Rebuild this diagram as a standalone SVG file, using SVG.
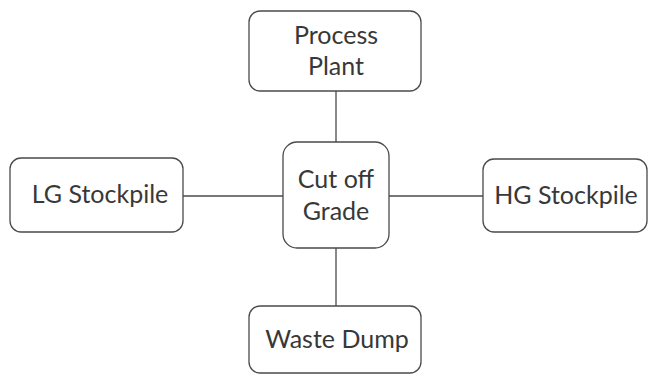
<svg xmlns="http://www.w3.org/2000/svg" width="650" height="376" viewBox="0 0 650 376">
<style>
.box{fill:#fff;stroke:#4a4a4a;stroke-width:1.3}
.lbl{font-family:Lato,"Open Sans","Liberation Sans",sans-serif;font-size:25px;fill:#383838;text-anchor:middle}
.conn line{stroke:#4a4a4a;stroke-width:1.3}
</style>
<rect width="650" height="376" fill="#fff"/>
<g id="connectors" class="conn">
<line x1="336" y1="91" x2="336" y2="142"/>
<line x1="183" y1="196" x2="283" y2="196"/>
<line x1="389" y1="196" x2="483" y2="196"/>
<line x1="336" y1="248" x2="336" y2="306"/>
</g>
<g id="process-plant">
<rect class="box" x="249" y="11" width="172" height="80" rx="11"/>
<text class="lbl" x="336" y="44">Process</text>
<text class="lbl" x="336" y="75">Plant</text>
</g>
<g id="lg-stockpile">
<rect class="box" x="10" y="158" width="173" height="74" rx="11"/>
<text class="lbl" x="100" y="203">LG Stockpile</text>
</g>
<g id="cut-off-grade">
<rect class="box" x="283" y="142" width="106" height="106" rx="14"/>
<text class="lbl" x="336" y="188">Cut off</text>
<text class="lbl" x="336" y="220">Grade</text>
</g>
<g id="hg-stockpile">
<rect class="box" x="483" y="159" width="164" height="73" rx="11"/>
<text class="lbl" x="566" y="204">HG Stockpile</text>
</g>
<g id="waste-dump">
<rect class="box" x="249" y="306" width="172" height="67" rx="11"/>
<text class="lbl" x="337" y="348">Waste Dump</text>
</g>
</svg>
